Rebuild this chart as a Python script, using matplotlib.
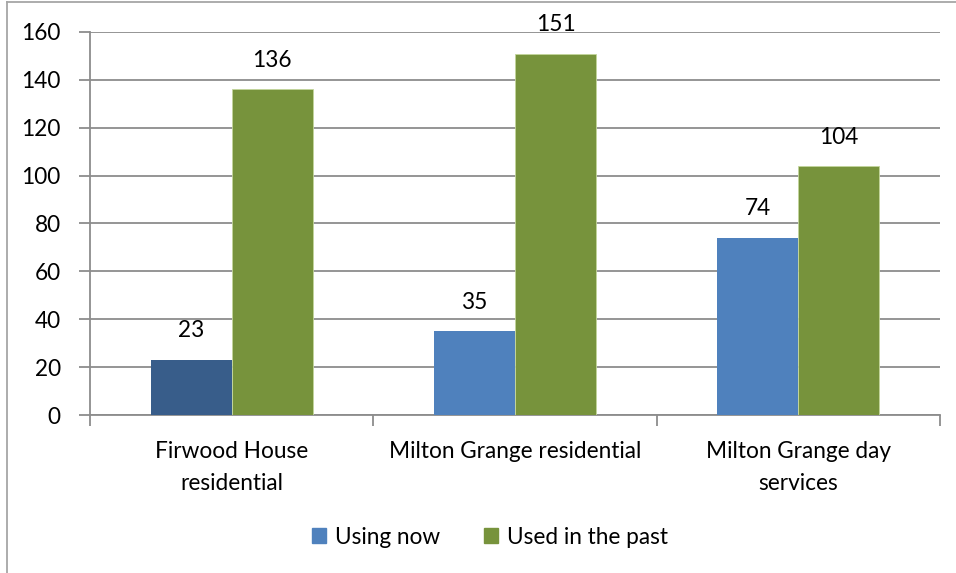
import matplotlib
matplotlib.use("Agg")
import matplotlib.pyplot as plt
from matplotlib.lines import Line2D
from matplotlib.patches import Patch
import numpy as np

categories = ["Firwood House\nresidential", "Milton Grange residential", "Milton Grange day\nservices"]
using_now = [23, 35, 74]
used_past = [136, 151, 104]
series_names = ["Using now", "Used in the past"]
yticks = [0, 20, 40, 60, 80, 100, 120, 140, 160]

plt.rcParams['font.family'] = ['Lato', 'DejaVu Sans']
FS = 16.3

fig = plt.figure(figsize=(9.56, 5.73), dpi=100)
ax = fig.add_axes([90/956, 1-415/573, 850/956, 383/573])
px_per_unit = 383/160

blue = "#4F81BD"
blue_dark = "#385D8A"
green = "#77933C"
grid_c = "#8C8C8C"

x = np.arange(len(categories))
w = 0.286
colors_now = [blue_dark, blue, blue]
ax.bar(x - w/2, using_now, w, color=colors_now, zorder=3)
ax.bar(x + w/2, used_past, w, color=green, zorder=3, edgecolor="#C3D69B", linewidth=0.6)

off = 29 / px_per_unit
for xi, v in zip(x - w/2, using_now):
    ax.text(xi, v + off, str(v), ha="center", va="center", fontsize=FS, color="black")
for xi, v in zip(x + w/2, used_past):
    ax.text(xi, v + off, str(v), ha="center", va="center", fontsize=FS, color="black", clip_on=False)

ax.set_xlim(-0.5, 2.5)
ax.set_ylim(0, 160)
ax.set_yticks(yticks)
ax.set_yticklabels([str(t) for t in yticks], fontsize=FS)
ax.yaxis.grid(True, color=grid_c, linewidth=1.3, zorder=0)
ax.set_axisbelow(True)

for s in ["top", "right"]:
    ax.spines[s].set_visible(False)
for s in ["left", "bottom"]:
    ax.spines[s].set_color(grid_c)
    ax.spines[s].set_linewidth(1.3)

ax.tick_params(axis="y", length=8, width=1.3, color=grid_c, pad=13)
ax.set_xticks([-0.5, 0.5, 1.5, 2.5])
ax.set_xticklabels([])
ax.tick_params(axis="x", length=8, width=1.3, color=grid_c)
for xi, lab in zip(x, categories):
    for k, line in enumerate(lab.split("\n")):
        ax.text(xi, -(36 + 32*k) / px_per_unit, line, ha="center", va="center",
                fontsize=FS, clip_on=False)

handles = [Patch(color=blue), Patch(color=green)]
fig.legend(handles, series_names, loc="center", bbox_to_anchor=(490/956, 1-537/573),
           ncol=2, frameon=False, fontsize=FS, handlelength=0.65, handleheight=0.65,
           columnspacing=1.9, handletextpad=0.4)

fig.add_artist(Line2D([7/956, 7/956], [0, 1-2/573], color="#A6A6A6", linewidth=1.3))
fig.add_artist(Line2D([7/956, 1], [1-2/573, 1-2/573], color="#A6A6A6", linewidth=1.3))

fig.savefig("out.png", dpi=100)
